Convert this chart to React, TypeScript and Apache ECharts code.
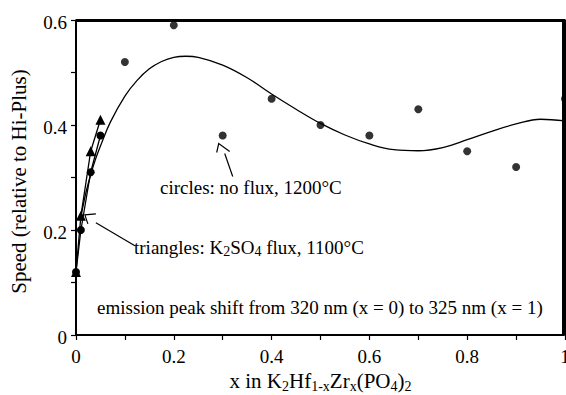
import React, { useEffect, useRef } from "react";
import * as echarts from "echarts";

const circleLineX = [0, 0.01, 0.03, 0.05];
const circleLineY = [0.12, 0.2, 0.31, 0.38];
const circleX = [0.1, 0.2, 0.3, 0.4, 0.5, 0.6, 0.7, 0.8, 0.9, 1.0];
const circleY = [0.52, 0.59, 0.38, 0.45, 0.4, 0.38, 0.43, 0.35, 0.32, 0.45];
const triX = [0, 0.01, 0.03, 0.05];
const triY = [0.12, 0.227, 0.35, 0.41];
const fitX = [0.01, 0.02, 0.03, 0.04, 0.05, 0.07, 0.1, 0.125, 0.15, 0.175, 0.2, 0.225, 0.25, 0.3, 0.35, 0.4, 0.45, 0.5, 0.55, 0.6, 0.65, 0.7, 0.75, 0.8, 0.85, 0.9, 0.95, 1.0];
const fitY = [0.225, 0.27, 0.305, 0.335, 0.36, 0.405, 0.455, 0.485, 0.507, 0.521, 0.529, 0.531, 0.529, 0.514, 0.49, 0.459, 0.43, 0.403, 0.381, 0.364, 0.353, 0.351, 0.357, 0.372, 0.388, 0.402, 0.411, 0.408];
const xTickLabels = ["0", "0.2", "0.4", "0.6", "0.8", "1"];
const yTickLabels = ["0", "0.2", "0.4", "0.6"];
const X_MIN = 0, X_MAX = 1, Y_MIN = 0, Y_MAX = 0.6;

const FONT = "Liberation Serif";
const zip = (xs: number[], ys: number[]) => xs.map((x, i) => [x, ys[i]]);

export default function App() {
  const ref = useRef<HTMLDivElement>(null);
  useEffect(() => {
    document.body.style.margin = "0";
    const chart = echarts.init(ref.current!, null, { renderer: "svg" });
    const black = "#000";
    const sub = { fontFamily: FONT, fontSize: 14, lineHeight: 12, color: black, verticalAlign: "bottom" as const };
    const main = { fontFamily: FONT, fontSize: 21, color: black, lineHeight: 24 };
    const tick = { fontFamily: FONT, fontSize: 19, color: black };
    chart.setOption({
      animation: false,
      backgroundColor: "#fff",
      textStyle: { fontFamily: FONT },
      grid: { left: 76, top: 20, right: 1, bottom: 60, containLabel: false, outerBoundsMode: "none" },
      xAxis: {
        type: "value", min: X_MIN, max: X_MAX, interval: 0.1,
        axisLine: { onZero: false, lineStyle: { color: black, width: 1.6 } },
        axisTick: { length: 5, lineStyle: { color: black, width: 1.2 } },
        splitLine: { show: false },
        axisLabel: {
          ...tick, margin: 12,
          formatter: (v: number) => {
            const k = Math.round(v * 10);
            return k % 2 === 0 ? "{n|" + xTickLabels[k / 2] + "}" : "";
          },
          rich: { n: tick },
        },
        name: "{a|x in K}{s|2}{a|Hf}{s|1-x}{a|Zr}{s|x}{a|(PO}{s|4}{a|)}{s|2}",
        nameLocation: "middle", nameGap: 31,
        nameTextStyle: { rich: { a: main, s: sub } },
      },
      yAxis: {
        type: "value", min: Y_MIN, max: Y_MAX, interval: 0.1,
        axisLine: { show: true, onZero: false, lineStyle: { color: black, width: 1.6 } },
        axisTick: { show: true, length: 5, lineStyle: { color: black, width: 1.2 } },
        splitLine: { show: false },
        axisLabel: {
          ...tick, margin: 9,
          formatter: (v: number) => {
            const k = Math.round(v * 10);
            return k % 2 === 0 ? "{n|" + yTickLabels[k / 2] + "}" : "";
          },
          rich: { n: { ...tick, padding: [4, 0, 0, 0] } },
        },
      },
      series: [
        {
          type: "line", data: [[X_MIN, Y_MAX], [X_MAX, Y_MAX], [X_MAX, Y_MIN]], symbol: "none",
          clip: false, silent: true, z: 5,
          lineStyle: { color: black, width: 2 },
        },
        {
          type: "line", data: zip(fitX, fitY), smooth: 0.4, symbol: "none",
          lineStyle: { color: black, width: 1.3 },
        },
        {
          type: "line", data: zip(triX, triY), symbol: "triangle", symbolSize: 10,
          itemStyle: { color: black }, lineStyle: { color: black, width: 1.3 },
        },
        {
          type: "line", data: zip(circleLineX, circleLineY), symbol: "circle", symbolSize: 8,
          itemStyle: { color: black }, lineStyle: { color: black, width: 1.3 },
        },
        {
          type: "scatter", data: zip(circleX, circleY), symbol: "circle", symbolSize: 8,
          itemStyle: { color: black },
        },
      ],
    });

    const tl = chart.convertToPixel({ gridIndex: 0 }, [X_MIN, Y_MAX]) as number[];
    const br = chart.convertToPixel({ gridIndex: 0 }, [X_MAX, Y_MIN]) as number[];
    const pc = chart.convertToPixel({ gridIndex: 0 }, [circleX[2], circleY[2]]) as number[];
    const pt = chart.convertToPixel({ gridIndex: 0 }, [triX[1], triY[1]]) as number[];
    const ls = { stroke: black, lineWidth: 1.2, fill: "none" };
    const tr = { fontFamily: FONT, fontSize: 19, color: black, lineHeight: 22 };
    chart.setOption({
      graphic: [
        {
          type: "rect", z: 50, silent: true,
          shape: { x: tl[0], y: tl[1] + 1, width: br[0] - tl[0] - 2, height: br[1] - tl[1] - 1 },
          style: { stroke: black, lineWidth: 2, fill: null },
        },
        { type: "line", shape: { x1: pc[0] + 10, y1: pc[1] + 41, x2: pc[0] + 2, y2: pc[1] + 18 }, style: ls },
        { type: "polyline", shape: { points: [[pc[0] - 6, pc[1] + 17], [pc[0] - 4, pc[1] + 8], [pc[0] + 7, pc[1] + 16]] }, style: ls },
        { type: "line", shape: { x1: pt[0] + 15, y1: pt[1] + 7, x2: pt[0] + 54, y2: pt[1] + 30 }, style: ls },
        { type: "polyline", shape: { points: [[pt[0] + 15, pt[1] - 2], [pt[0] + 4, pt[1] - 1], [pt[0] + 7, pt[1] + 8]] }, style: ls },
        {
          type: "text", x: 19, y: (tl[1] + br[1]) / 2 + 4, rotation: Math.PI / 2,
          style: { text: "{a|Speed (relative to Hi-Plus)}", rich: { a: main }, align: "center", verticalAlign: "middle" },
        },
        { type: "text", left: 160, top: 178, style: { text: "{a|circles: no flux, 1200°C}", rich: { a: tr } } },
        {
          type: "text", left: 134, top: 238,
          style: {
            text: "{a|triangles: K}{s|2}{a|SO}{s|4}{a| flux, 1100°C}",
            rich: { a: tr, s: sub },
          },
        },
        { type: "text", left: 97, top: 298, style: { text: "{a|emission peak shift from 320 nm (x = 0) to 325 nm (x = 1)}", rich: { a: tr } } },
      ],
    });
    return () => chart.dispose();
  }, []);
  return <div ref={ref} style={{ width: 566, height: 395 }} />;
}
